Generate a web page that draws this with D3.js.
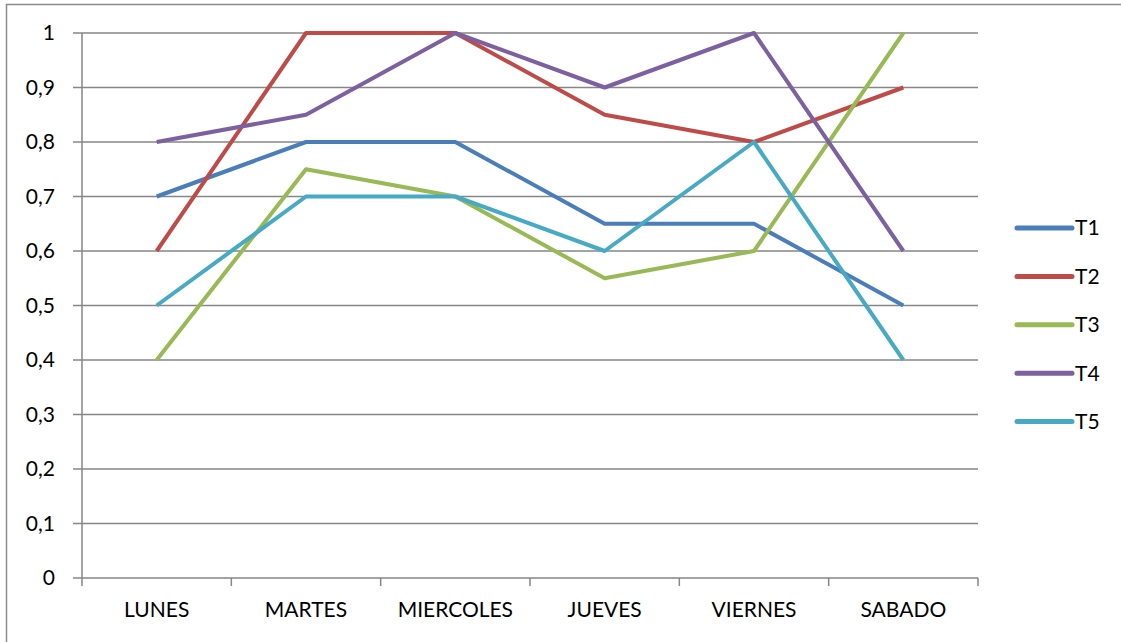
<!DOCTYPE html>
<html>
<head>
<meta charset="utf-8">
<script src="https://cdn.jsdelivr.net/npm/d3@7"></script>
<style>
  body { margin: 0; background: #fff; }
  text { font-family: Lato, "Open Sans", sans-serif; fill: #000; }
</style>
</head>
<body>
<div id="chart"></div>
<script>
const days = ["LUNES", "MARTES", "MIERCOLES", "JUEVES", "VIERNES", "SABADO"];
const seriesNames = ["T1", "T2", "T3", "T4", "T5"];
const t1 = [0.7, 0.8, 0.8, 0.65, 0.65, 0.5];
const t2 = [0.6, 1, 1, 0.85, 0.8, 0.9];
const t3 = [0.4, 0.75, 0.7, 0.55, 0.6, 1];
const t4 = [0.8, 0.85, 1, 0.9, 1, 0.6];
const t5 = [0.5, 0.7, 0.7, 0.6, 0.8, 0.4];
const yTicks = [0, 0.1, 0.2, 0.3, 0.4, 0.5, 0.6, 0.7, 0.8, 0.9, 1];
const colors = ["#4A7EBB", "#BE4B48", "#98B954", "#7D60A0", "#46AAC5"];

const series = [t1, t2, t3, t4, t5].map((vals, i) => ({ name: seriesNames[i], values: vals, color: colors[i] }));

const W = 1121, H = 642;
const margin = { top: 33, right: 143, bottom: 64, left: 82 };
const width = W - margin.left - margin.right;
const height = H - margin.top - margin.bottom;
const fontSize = "21px";

const svg = d3.select("#chart").append("svg")
    .attr("width", W)
    .attr("height", H);

// outer frame
svg.append("rect")
    .attr("x", 6.5).attr("y", 4.5)
    .attr("width", W + 10).attr("height", H + 10)
    .attr("fill", "none")
    .attr("stroke", "#8a8a8a")
    .attr("stroke-width", 1.5);

const g = svg.append("g").attr("transform", `translate(${margin.left},${margin.top})`);

const x = d3.scaleBand().domain(days).range([0, width]);
const y = d3.scaleLinear().domain([0, 1]).range([height, 0]);

// horizontal gridlines with left tick stubs
g.append("g")
    .selectAll("line")
    .data(yTicks)
    .enter().append("line")
    .attr("x1", -9).attr("x2", width)
    .attr("y1", d => y(d)).attr("y2", d => y(d))
    .attr("stroke", "#868686")
    .attr("stroke-width", 1.5);

// y labels
g.append("g")
    .selectAll("text")
    .data(yTicks)
    .enter().append("text")
    .attr("x", -27)
    .attr("y", d => y(d))
    .attr("dy", "0.35em")
    .attr("text-anchor", "end")
    .style("font-size", fontSize)
    .text(d => d3.format(".1f")(d).replace(".", ",").replace(/^0,0$/, "0").replace(/^1,0$/, "1"));

// y axis line
g.append("line")
    .attr("x1", 0).attr("x2", 0)
    .attr("y1", 0).attr("y2", height)
    .attr("stroke", "#868686").attr("stroke-width", 1.5);

// x axis
const xAxis = d3.axisBottom(x).tickSize(0).tickPadding(24);
const xg = g.append("g")
    .attr("transform", `translate(0,${height})`)
    .call(xAxis);
xg.select(".domain").remove();
xg.selectAll("text")
    .style("font-size", fontSize)
    .style("font-family", "Lato, 'Open Sans', sans-serif")
    .attr("fill", "#000");

// x tick marks at band edges
g.append("g")
    .selectAll("line")
    .data(d3.range(days.length + 1))
    .enter().append("line")
    .attr("x1", i => i * x.step()).attr("x2", i => i * x.step())
    .attr("y1", height).attr("y2", height + 8)
    .attr("stroke", "#868686").attr("stroke-width", 1.5);

// lines
const line = d3.line()
    .x((d, i) => x(days[i]) + x.bandwidth() / 2)
    .y(d => y(d));

g.append("g")
    .selectAll("path")
    .data(series)
    .enter().append("path")
    .attr("d", d => line(d.values))
    .attr("fill", "none")
    .attr("stroke", d => d.color)
    .attr("stroke-width", 4)
    .attr("stroke-linejoin", "round");

// legend
const legend = svg.append("g").attr("transform", "translate(1017,228)");
const item = legend.selectAll("g")
    .data(series)
    .enter().append("g")
    .attr("transform", (d, i) => `translate(0,${i * 48.4})`);
item.append("line")
    .attr("x1", 0).attr("x2", 55)
    .attr("stroke", d => d.color)
    .attr("stroke-width", 5)
    .attr("stroke-linecap", "round");
item.append("text")
    .attr("x", 58)
    .attr("dy", "0.35em")
    .style("font-size", fontSize)
    .text(d => d.name);
</script>
</body>
</html>
